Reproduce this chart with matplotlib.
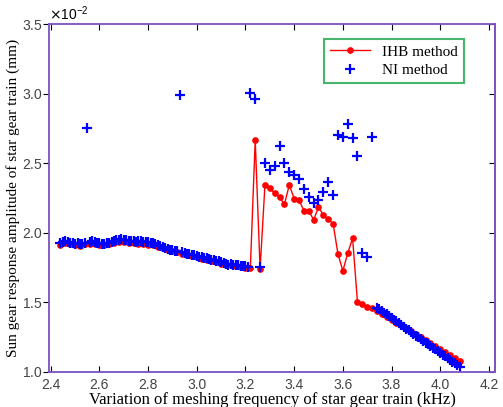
import matplotlib
matplotlib.use("Agg")
import matplotlib.pyplot as plt
import numpy as np

# IHB method (x in kHz, y in 1e-2 mm) -- sampled every 0.02 kHz
ihb_x = np.round(np.arange(2.44, 4.081, 0.02), 2)
ihb_y = [1.915, 1.925, 1.920, 1.910, 1.905, 1.918, 1.922, 1.918, 1.912, 1.910,
         1.918, 1.930, 1.935, 1.935, 1.930, 1.925, 1.922, 1.918, 1.915, 1.910,
         1.900, 1.890, 1.878, 1.868, 1.860, 1.850, 1.842, 1.833, 1.825, 1.815,
         1.808, 1.800, 1.792, 1.780, 1.772, 1.768, 1.762, 1.758, 1.750, 1.748,
         2.668, 1.740, 2.345, 2.320, 2.286, 2.257, 2.206, 2.345, 2.247, 2.237,
         2.160, 2.160, 2.094, 2.185, 2.130, 2.099, 2.067, 1.849, 1.727, 1.854,
         1.962, 1.506, 1.491, 1.470, 1.462, 1.440, 1.420, 1.398, 1.377, 1.356,
         1.335, 1.313, 1.292, 1.270, 1.249, 1.228, 1.206, 1.185, 1.163, 1.142,
         1.121, 1.100, 1.082]

# NI method, low-frequency part
ni_x1 = [2.44, 2.45, 2.46, 2.47, 2.48, 2.49, 2.50, 2.51, 2.52, 2.53, 2.54, 2.55,
         2.56, 2.57, 2.58, 2.59, 2.60, 2.61, 2.62, 2.63, 2.64, 2.65, 2.66, 2.67,
         2.68, 2.69, 2.70, 2.71, 2.72, 2.73, 2.74, 2.75, 2.76, 2.77, 2.78, 2.79,
         2.80, 2.81, 2.82, 2.83, 2.84, 2.85, 2.86, 2.87, 2.88, 2.89, 2.90, 2.91,
         2.92, 2.93, 2.94, 2.95, 2.96, 2.97, 2.98, 2.99, 3.00, 3.01, 3.02, 3.03,
         3.04, 3.05, 3.06, 3.07, 3.08, 3.09, 3.10, 3.11, 3.12, 3.13, 3.14, 3.15,
         3.16, 3.17, 3.18, 3.19, 3.20, 3.21]
ni_y1 = [1.928, 1.938, 1.942, 1.935, 1.930, 1.925, 1.918, 1.925, 1.920, 1.918, 1.925, 2.758,
         1.935, 1.940, 1.932, 1.928, 1.925, 1.922, 1.918, 1.925, 1.930, 1.935, 1.942, 1.948,
         1.952, 1.955, 1.950, 1.948, 1.945, 1.942, 1.940, 1.938, 1.942, 1.940, 1.935, 1.938,
         1.932, 1.928, 1.925, 1.918, 1.910, 1.905, 1.898, 1.892, 1.888, 1.880, 1.878, 1.872,
         1.868, 2.993, 1.862, 1.858, 1.852, 1.848, 1.842, 1.838, 1.835, 1.830, 1.825, 1.822,
         1.818, 1.812, 1.808, 1.805, 1.800, 1.795, 1.790, 1.782, 1.775, 1.772, 1.775, 1.770,
         1.768, 1.772, 1.765, 1.762, 1.760, 1.758]

# NI method, resonance region
ni_x2 = [3.22, 3.24, 3.26, 3.28, 3.30, 3.32, 3.34, 3.36, 3.38, 3.40, 3.42, 3.44,
         3.46, 3.48, 3.50, 3.52, 3.54, 3.56, 3.58, 3.60, 3.62, 3.64, 3.66, 3.68,
         3.70, 3.72]
ni_y2 = [3.009, 2.964, 1.758, 2.501, 2.455, 2.483, 2.622, 2.506, 2.436, 2.417, 2.390, 2.316,
         2.260, 2.218, 2.240, 2.295, 2.369, 2.273, 2.704, 2.688, 2.784, 2.682, 2.555, 1.854,
         1.830, 2.690]

# NI method, high-frequency part
ni_x3 = [3.74, 3.75, 3.76, 3.77, 3.78, 3.79, 3.80, 3.81, 3.82, 3.83, 3.84, 3.85,
         3.86, 3.87, 3.88, 3.89, 3.90, 3.91, 3.92, 3.93, 3.94, 3.95, 3.96, 3.97,
         3.98, 3.99, 4.00, 4.01, 4.02, 4.03, 4.04, 4.05, 4.06, 4.07, 4.08]
ni_y3 = [1.460, 1.452, 1.440, 1.425, 1.415, 1.400, 1.388, 1.375, 1.365, 1.350, 1.338, 1.325,
         1.312, 1.300, 1.290, 1.275, 1.262, 1.250, 1.238, 1.225, 1.212, 1.200, 1.188, 1.175,
         1.162, 1.150, 1.138, 1.125, 1.112, 1.100, 1.088, 1.075, 1.062, 1.050, 1.038]

ni_x = ni_x1 + ni_x2 + ni_x3
ni_y = ni_y1 + ni_y2 + ni_y3

serif = "Liberation Serif"
sans = "Liberation Sans"
purple = "#7b52c0"

fig = plt.figure(figsize=(5.03, 4.07), dpi=100)
ax = fig.add_axes([0.098, 0.086, 0.887, 0.854])

ax.plot(ihb_x, np.array(ihb_y) * 1e-2, color="red", lw=1.0, marker="o", ms=3.8,
        label="IHB method")
ax.plot(ni_x, np.array(ni_y) * 1e-2, ls="none", color="blue", marker="+", ms=7,
        mew=1.6, label="NI method")

ax.set_xlim(2.394, 4.227)
ax.set_ylim(1.0e-2, 3.5e-2)
ax.set_xticks(np.arange(2.4, 4.21, 0.2))
ax.set_xticklabels(["%.1f" % v for v in np.arange(2.4, 4.21, 0.2)])
ax.set_yticks(np.arange(1.0e-2, 3.51e-2, 0.5e-2))
ax.ticklabel_format(style="sci", axis="y", scilimits=(0, 0), useMathText=True)
ax.yaxis.get_offset_text().set_fontsize(10)
ax.yaxis.get_offset_text().set_fontfamily(sans)

for s in ax.spines.values():
    s.set_color(purple)
    s.set_linewidth(1.3)

ax.tick_params(axis="x", direction="in", top=True, length=4, labelsize=10, pad=4)
ax.tick_params(axis="y", direction="out", length=4, labelsize=10, pad=1)
for lab in ax.get_xticklabels() + ax.get_yticklabels():
    lab.set_fontfamily(sans)
    lab.set_color("#444444")

sec = ax.secondary_yaxis("right")
sec.set_yticks(np.arange(1.0e-2, 3.51e-2, 0.5e-2))
sec.tick_params(direction="in", length=4, labelright=False)
sec.spines["right"].set_color(purple)
sec.spines["right"].set_linewidth(1.3)

ax.set_xlabel("Variation of meshing frequency of star gear train (kHz)",
              family=serif, fontsize=12, labelpad=0)
ax.set_ylabel("Sun gear response amplitude of star gear train (mm)",
              family=serif, fontsize=11, labelpad=1)

leg = ax.legend(loc="upper right", bbox_to_anchor=(0.93, 0.958), borderaxespad=0,
                prop={"family": serif, "size": 11}, fancybox=False,
                handlelength=2.6, borderpad=0.4, labelspacing=0.3)
leg.get_frame().set_edgecolor("#1aa34a")
leg.get_frame().set_linewidth(1.5)

fig.savefig("out.png", dpi=100)
